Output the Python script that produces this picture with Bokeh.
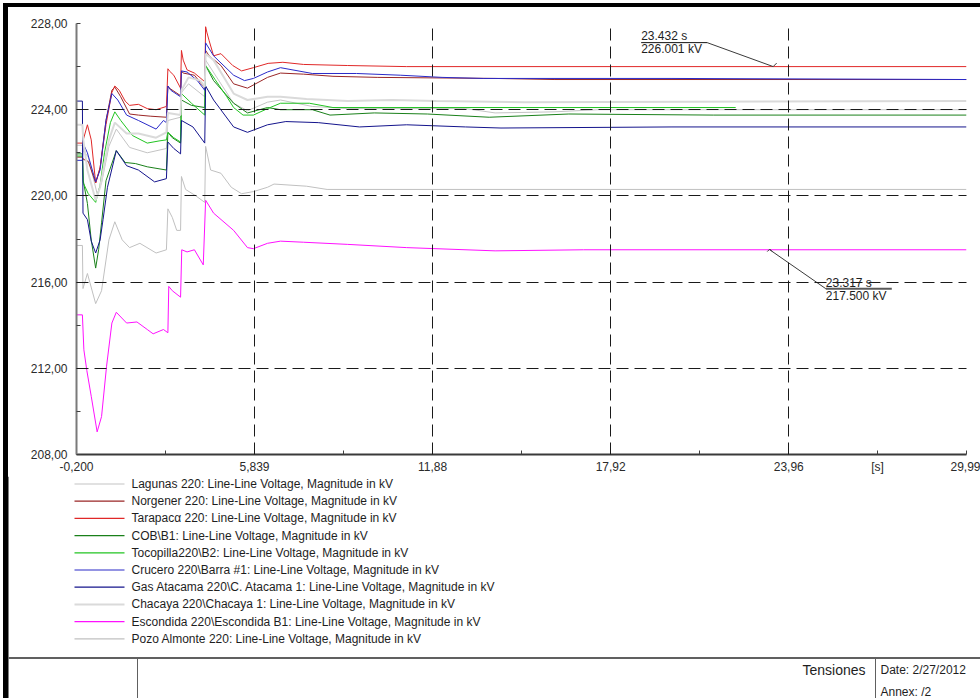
from bokeh.plotting import figure
from bokeh.models import Range1d, FixedTicker, CustomJSTickFormatter
from bokeh.layouts import column
from bokeh.embed import file_html
from bokeh.resources import INLINE
from bokeh.core.properties import value

FONT = "Liberation Sans"

# ---------------- data ----------------
names = [
    "Lagunas 220: Line-Line Voltage, Magnitude in kV",
    "Norgener 220: Line-Line Voltage, Magnitude in kV",
    "Tarapacα 220: Line-Line Voltage, Magnitude in kV",
    "COB\\B1: Line-Line Voltage, Magnitude in kV",
    "Tocopilla220\\B2: Line-Line Voltage, Magnitude in kV",
    "Crucero 220\\Barra #1: Line-Line Voltage, Magnitude in kV",
    "Gas Atacama 220\\C. Atacama 1: Line-Line Voltage, Magnitude in kV",
    "Chacaya 220\\Chacaya 1: Line-Line Voltage, Magnitude in kV",
    "Escondida 220\\Escondida B1: Line-Line Voltage, Magnitude in kV",
    "Pozo Almonte 220: Line-Line Voltage, Magnitude in kV",
]
colors = ["#c4c4c4", "#9a2626", "#e02828", "#1a801a", "#22c422",
          "#2a2ac8", "#14148c", "#dadada", "#ff10ff", "#c0c0c0"]
widths = [1, 1, 1, 1, 1, 1, 1, 2, 1, 1]

lagunas_t = [-0.2, 0.0, 0.03, 0.2, 0.5, 0.65, 0.9, 1.15, 1.6, 2.2, 2.85, 2.9, 3.33, 3.36, 3.6, 4.15, 4.18, 4.7, 5.13, 5.6, 6.28, 6.72, 7.8, 9.0, 13.0, 14.0, 16.0, 17.5, 29.99]
lagunas_v = [222.35, 222.35, 222.1, 221.8, 220.1, 220.6, 222.3, 223.1, 222.25, 222.0, 222.2, 223.5, 223.65, 224.8, 225.2, 224.6, 226.3, 225.2, 224.3, 223.95, 224.35, 224.45, 224.15, 224.05, 224.05, 223.85, 223.9, 224.0, 224.0]

norgener_t = [-0.2, 0.0, 0.03, 0.2, 0.45, 0.6, 0.8, 1.0, 1.1, 1.3, 1.6, 1.9, 2.3, 2.85, 2.9, 2.95, 3.33, 3.36, 3.42, 3.8, 4.15, 4.18, 4.3, 4.7, 5.13, 5.6, 6.28, 6.72, 7.5, 8.5, 10.0, 14.0, 16.0, 29.99]
norgener_v = [221.8, 221.8, 221.7, 221.6, 220.6, 221.3, 223.5, 224.9, 225.05, 224.6, 223.8, 223.75, 223.7, 223.65, 225.1, 225.0, 224.65, 225.8, 225.7, 225.6, 225.0, 226.75, 226.5, 226.05, 225.2, 225.0, 225.5, 225.7, 225.65, 225.55, 225.5, 225.45, 225.4, 225.4]

tarapaca_t = [-0.2, 0.0, 0.03, 0.17, 0.3, 0.45, 0.6, 0.8, 1.0, 1.1, 1.25, 1.45, 1.6, 1.9, 2.2, 2.5, 2.85, 2.9, 2.95, 3.1, 3.33, 3.36, 3.42, 3.55, 3.8, 4.15, 4.18, 4.22, 4.3, 4.45, 4.7, 5.1, 5.4, 5.8, 6.3, 6.8, 7.5, 9.0, 11.0, 29.99]
tarapaca_v = [222.45, 222.45, 222.6, 223.3, 222.6, 220.6, 221.3, 223.3, 224.8, 225.1, 224.9, 224.4, 224.2, 224.25, 224.05, 224.0, 224.15, 225.9, 225.8, 225.6, 225.0, 226.75, 226.3, 225.85, 225.7, 225.3, 227.85, 227.6, 227.2, 226.5, 226.6, 226.05, 225.8, 225.95, 226.15, 226.2, 226.1, 226.05, 226.0, 226.0]

cob_t = [-0.2, 0.0, 0.03, 0.17, 0.3, 0.45, 0.55, 0.65, 0.8, 1.15, 1.45, 1.8, 2.2, 2.85, 2.9, 3.05, 3.33, 3.36, 3.7, 4.15, 4.18, 4.45, 5.13, 5.6, 6.28, 6.72, 7.8, 8.4, 9.9, 11.7, 13.8, 16.5, 21.4, 29.99]
cob_v = [221.95, 221.95, 220.7, 219.65, 217.95, 216.65, 217.5, 218.75, 220.7, 222.1, 221.55, 221.5, 221.35, 221.2, 222.95, 222.7, 222.45, 224.45, 224.2, 224.1, 226.05, 225.35, 224.3, 223.85, 224.1, 224.0, 224.0, 223.75, 223.85, 223.8, 223.65, 223.8, 223.75, 223.75]

tocopilla_t = [-0.2, 0.0, 0.03, 0.2, 0.45, 0.6, 0.75, 0.95, 1.1, 1.3, 1.7, 2.2, 2.6, 2.85, 2.9, 3.1, 3.33, 3.36, 3.7, 4.15, 4.18, 4.5, 4.9, 5.13, 5.45, 5.8, 6.28, 6.72, 7.7, 8.5, 22.16]
tocopilla_v = [221.85, 221.85, 220.6, 220.1, 219.7, 220.5, 222.0, 223.4, 223.9, 223.5, 222.8, 222.45, 222.55, 222.6, 222.95, 222.7, 222.5, 224.75, 224.3, 223.75, 226.05, 225.4, 224.6, 224.1, 223.75, 223.75, 224.05, 224.3, 224.3, 224.1, 224.1]

crucero_t = [-0.2, 0.0, 0.02, 0.17, 0.45, 0.6, 0.8, 1.0, 1.2, 1.5, 1.9, 2.5, 2.75, 2.85, 2.9, 3.0, 3.33, 3.36, 3.55, 3.9, 4.15, 4.18, 4.45, 5.13, 5.5, 5.8, 6.28, 6.72, 7.8, 9.3, 10.8, 12.2, 13.6, 20.0, 29.99]
crucero_v = [221.65, 221.65, 222.45, 222.0, 220.65, 221.2, 223.5, 224.75, 224.45, 223.75, 223.5, 223.1, 223.5, 223.4, 225.1, 224.9, 224.6, 225.8, 225.75, 225.35, 224.9, 227.1, 226.5, 225.6, 225.35, 225.45, 225.75, 225.95, 225.68, 225.68, 225.6, 225.5, 225.45, 225.45, 225.4]

atacama_t = [-0.2, 0.0, 0.02, 0.17, 0.3, 0.45, 0.6, 0.7, 0.85, 1.15, 1.5, 1.9, 2.45, 2.85, 2.9, 3.1, 3.33, 3.36, 3.75, 4.15, 4.18, 4.45, 5.13, 5.6, 6.28, 6.9, 8.0, 9.4, 11.0, 13.0, 14.2, 20.0, 29.99]
atacama_v = [224.4, 224.4, 219.2, 218.9, 217.9, 217.35, 217.95, 218.9, 220.4, 222.1, 221.4, 221.2, 220.65, 220.8, 222.5, 222.2, 221.95, 223.5, 223.2, 222.45, 225.1, 224.45, 223.2, 222.95, 223.3, 223.45, 223.4, 223.2, 223.3, 223.2, 223.15, 223.2, 223.2]

chacaya_t = [-0.2, 0.0, 0.03, 0.17, 0.45, 0.6, 0.9, 1.1, 1.5, 1.9, 2.5, 2.85, 2.9, 3.33, 3.36, 3.6, 4.0, 4.15, 4.18, 4.45, 5.13, 5.6, 6.28, 6.72, 7.6, 9.0, 10.5, 12.0, 15.0, 29.99]
chacaya_v = [223.3, 223.3, 222.6, 221.2, 219.8, 220.4, 222.6, 223.4, 222.9, 222.9, 222.7, 222.95, 223.85, 223.75, 224.9, 225.5, 225.35, 225.05, 226.6, 226.3, 224.75, 224.45, 224.6, 224.6, 224.5, 224.4, 224.45, 224.4, 224.35, 224.4]

escondida_t = [-0.2, 0.0, 0.05, 0.15, 0.3, 0.5, 0.65, 0.82, 1.0, 1.15, 1.5, 1.85, 2.2, 2.4, 2.75, 2.9, 2.93, 3.05, 3.33, 3.37, 3.55, 3.8, 4.1, 4.18, 4.45, 5.13, 5.6, 5.8, 6.28, 6.72, 7.5, 9.0, 11.0, 14.0, 17.0, 29.99]
escondida_v = [214.48, 214.48, 212.86, 211.9, 210.7, 209.05, 209.76, 212.1, 214.1, 214.6, 214.1, 214.15, 213.8, 213.6, 213.8, 213.65, 215.8, 215.6, 215.3, 217.5, 217.4, 217.5, 216.8, 219.8, 219.2, 218.4, 217.6, 217.55, 217.8, 217.9, 217.85, 217.75, 217.6, 217.45, 217.5, 217.5]

pozo_t = [-0.2, 0.0, 0.02, 0.17, 0.45, 0.65, 0.9, 1.1, 1.35, 1.6, 1.95, 2.5, 2.85, 2.9, 3.05, 3.2, 3.33, 3.36, 3.5, 3.85, 4.15, 4.18, 4.35, 4.7, 5.05, 5.4, 5.8, 6.28, 6.5, 7.6, 8.3, 29.99]
pozo_v = [217.7, 217.7, 215.7, 216.4, 215.0, 215.6, 217.96, 218.8, 217.96, 217.6, 217.8, 217.35, 217.5, 219.4, 219.0, 218.4, 218.4, 220.9, 220.3, 220.0, 219.7, 222.3, 221.2, 221.05, 220.4, 220.1, 220.2, 220.4, 220.55, 220.45, 220.3, 220.3]

series_t = [lagunas_t, norgener_t, tarapaca_t, cob_t, tocopilla_t,
            crucero_t, atacama_t, chacaya_t, escondida_t, pozo_t]
series_v = [lagunas_v, norgener_v, tarapaca_v, cob_v, tocopilla_v,
            crucero_v, atacama_v, chacaya_v, escondida_v, pozo_v]

x_tick_vals = [-0.2, 2.8195, 5.839, 8.8595, 11.88, 14.9, 17.92, 20.94, 23.96, 26.975, 29.99]
x_tick_lbls = ["-0,200", "", "5,839", "", "11,88", "", "17,92", "", "23,96", "[s]", "29,99"]
x_grid_vals = [5.839, 11.88, 17.92, 23.96, 29.99]
y_tick_vals = [208, 210, 212, 214, 216, 218, 220, 222, 224, 226, 228]
y_tick_lbls = ["208,00", "", "212,00", "", "216,00", "", "220,00", "", "224,00", "", "228,00"]
y_grid_vals = [212, 216, 220, 224, 228]

mark_t = [23.432, 23.317]
mark_v = [226.001, 217.500]
mark_txt1 = ["23.432 s", "23.317 s"]
mark_txt2 = ["226.001 kV", "217.500 kV"]

footer_title = "Tensiones"
footer_date = "Date:  2/27/2012"
footer_annex = "Annex:  /2"

# ---------------- main plot ----------------
W = 980
H1 = 476
p = figure(width=W, height=H1, output_backend="svg", toolbar_location=None,
           x_range=Range1d(-0.2, 29.99), y_range=Range1d(208, 228),
           min_border_left=76, min_border_right=14, min_border_top=23,
           min_border_bottom=21)
p.frame_align = False
p.outline_line_color = None
p.background_fill_color = "white"
p.border_fill_color = None

for tt, vv, c, w in zip(series_t, series_v, colors, widths):
    p.line(tt, vv, line_color=c, line_width=w)

# axes
p.xaxis.ticker = FixedTicker(ticks=x_tick_vals)
p.yaxis.ticker = FixedTicker(ticks=y_tick_vals)
p.xaxis.formatter = CustomJSTickFormatter(args=dict(tv=x_tick_vals, tl=x_tick_lbls), code="""
for (let i = 0; i < tv.length; i++) { if (Math.abs(tick - tv[i]) < 1e-6) return tl[i]; }
return "";""")
p.yaxis.formatter = CustomJSTickFormatter(args=dict(tv=y_tick_vals, tl=y_tick_lbls), code="""
for (let i = 0; i < tv.length; i++) { if (Math.abs(tick - tv[i]) < 1e-6) return tl[i]; }
return "";""")
for ax in (p.xaxis[0], p.yaxis[0]):
    ax.major_tick_in = 4
    ax.major_tick_out = 0
    ax.minor_tick_line_color = None
    ax.major_tick_line_color = "#404040"
    ax.major_label_text_font = FONT
    ax.major_label_text_font_size = "12px"
    ax.major_label_text_color = "#2a2a2a"
p.xaxis.axis_line_color = "#3a3a3a"
p.xaxis.axis_line_width = 2
p.yaxis.axis_line_color = "#7a7a7a"
p.yaxis.axis_line_width = 2
p.xaxis.major_label_standoff = 5
p.yaxis.major_label_standoff = 9

p.xgrid.ticker = FixedTicker(ticks=x_grid_vals)
p.ygrid.ticker = FixedTicker(ticks=y_grid_vals)
for g in (p.xgrid[0], p.ygrid[0]):
    g.grid_line_color = "#1a1a1a"
    g.grid_line_dash = "12 6"
    g.grid_line_width = 1
    g.level = "overlay"

# marker annotations (pixel offsets converted to data units)
SX = 890 / 30.19   # px per second
SY = 432 / 20.0    # px per kV
def at(i, dx, dy):
    return mark_t[i] + dx / SX, mark_v[i] - dy / SY

offs = [
    dict(under=(-132, -66, -24), diag_end=(-66, -24), txt_x=-132, b1=-30.5, b2=-17.5,
         tick=[(0, 0), (3.5, -3.5)], uw=1, uc="#111111"),
    dict(under=(56, 122, 39), diag_end=(56, 39), txt_x=56, b1=33.5, b2=46.5,
         tick=[(-2.5, 1.8), (0, -0.7), (2.5, 1.8)], uw=2, uc="#5a5a5a"),
]
for i, o in enumerate(offs):
    x0, y0 = at(i, 0, 0)
    x1, y1 = at(i, *o["diag_end"])
    p.line([x0, x1], [y0, y1], line_color="#3a3a3a", line_width=1)
    ua, ub, uy = o["under"]
    xa, ya = at(i, ua, uy)
    xb, yb = at(i, ub, uy)
    p.line([xa, xb], [ya, yb], line_color=o["uc"], line_width=o["uw"])
    tx = [at(i, dx, dy)[0] for dx, dy in o["tick"]]
    ty = [at(i, dx, dy)[1] for dx, dy in o["tick"]]
    p.line(tx, ty, line_color="#3a3a3a", line_width=1)
    tx1, ty1 = at(i, o["txt_x"], o["b1"])
    tx2, ty2 = at(i, o["txt_x"], o["b2"])
    p.text([tx1, tx2], [ty1, ty2], text=[mark_txt1[i], mark_txt2[i]],
           text_font=value(FONT), text_font_size="12px", text_color="#1e1e1e",
           text_align="left", text_baseline="alphabetic")

# ---------------- legend + footer (page pixel coordinates) ----------------
H2 = 698 - H1
q = figure(width=W, height=H2, output_backend="svg", toolbar_location=None,
           x_range=Range1d(0, 980), y_range=Range1d(698, H1),
           min_border=0, min_border_left=0, min_border_right=0,
           min_border_top=0, min_border_bottom=0)
q.frame_align = False
q.xaxis.visible = False
q.yaxis.visible = False
q.xgrid.visible = False
q.ygrid.visible = False
q.outline_line_color = None
q.background_fill_color = None
q.border_fill_color = None

row0 = 483.5
step = 17.2
rows_y = [row0 + k * step for k in range(len(names))]
q.segment(x0=[74] * len(names), x1=[124] * len(names), y0=rows_y, y1=rows_y,
          line_color=colors, line_width=[max(1.2, w) for w in widths])
q.text(x=[131] * len(names), y=rows_y, text=names, text_font=value(FONT),
       text_font_size="12px", text_color="#1e1e1e", text_baseline="middle",
       text_align="left")

q.quad(left=[3], right=[8], bottom=[698], top=[H1], fill_color="black", line_color=None)
q.segment(x0=[8], x1=[980], y0=[657.5], y1=[657.5], line_color="#606060", line_width=2)
q.segment(x0=[137, 875], x1=[137, 875], y0=[658, 658], y1=[698, 698],
          line_color="#606060", line_width=1)
q.text(x=[865], y=[669], text=[footer_title], text_font=value(FONT),
       text_font_size="14px", text_color="#1e1e1e", text_baseline="middle", text_align="right")
q.text(x=[880, 880], y=[669, 691], text=[footer_date, footer_annex], text_font=value(FONT),
       text_font_size="12px", text_color="#1e1e1e", text_baseline="middle", text_align="left")

layout = column(p, q, spacing=0,
                styles={"box-shadow": "inset 3px 3px 0 0 #fff, inset 8px 7px 0 0 #000"})

open("out.html", "w").write(file_html(layout, INLINE))
